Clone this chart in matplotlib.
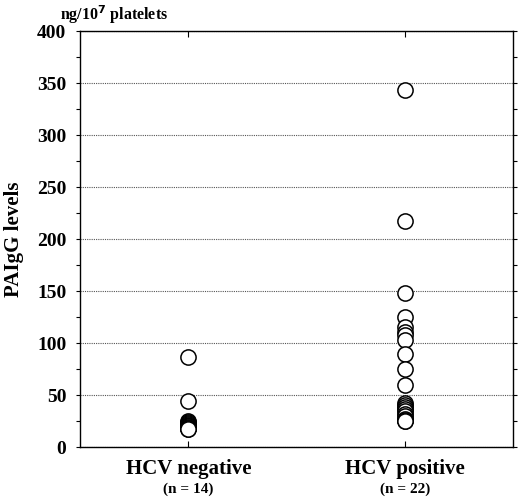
import matplotlib.pyplot as plt
from matplotlib.ticker import MultipleLocator

plt.rcParams['font.family'] = ['Liberation Serif', 'DejaVu Serif']

groups = ['HCV negative', 'HCV positive']
counts = ['(n = 14)', '(n = 22)']
hcv_neg = [87, 44, 25, 24, 23, 22, 21, 20, 20, 19, 18, 18, 17, 17]
hcv_pos = [343, 217, 148, 125, 115, 111, 108, 103, 89, 75, 60, 42, 40, 38,
           37, 35, 32, 30, 27, 26, 25, 25]

fig = plt.figure(figsize=(5.2, 5.0), dpi=100)
ax = fig.add_axes([0.154, 0.106, 0.833, 0.832])

for i, vals in enumerate([hcv_neg, hcv_pos]):
    ax.scatter([i + 1] * len(vals), vals, s=120, facecolors='white',
               edgecolors='black', linewidths=1.1, zorder=3)

ax.set_xlim(0.5, 2.5)
ax.set_ylim(0, 400)
ax.yaxis.set_major_locator(MultipleLocator(50))
ax.yaxis.set_minor_locator(MultipleLocator(25))
ax.set_xticks([1, 2])
ax.set_xticklabels([])
ax.grid(axis='y', which='major', color='#555555', linestyle=(0, (1, 1)), linewidth=0.8)
ax.tick_params(axis='y', which='both', direction='out', length=3, width=0.8,
               labelsize=14, pad=7, right=True)
ax.tick_params(axis='x', direction='in', length=4, width=0.8, top=True)
for lab in ax.get_yticklabels():
    lab.set_fontweight('bold')
for sp in ax.spines.values():
    sp.set_linewidth(1.0)

for i, (g, c) in enumerate(zip(groups, counts)):
    ax.text(i + 1, -21, g, ha='center', va='center', fontsize=15, fontweight='bold')
    ax.text(i + 1, -41, c, ha='center', va='center', fontsize=11, fontweight='bold')

ax.set_ylabel('PAIgG levels', fontsize=15, fontweight='bold')
ax.yaxis.set_label_coords(-0.13, 0.5)
fig.text(0.115, 0.970, 'ng/10$^{\\mathbf{7}}$ platelets', fontsize=11.5, fontweight='bold',
         va='center', ha='left')

fig.savefig('out.png', dpi=100)
